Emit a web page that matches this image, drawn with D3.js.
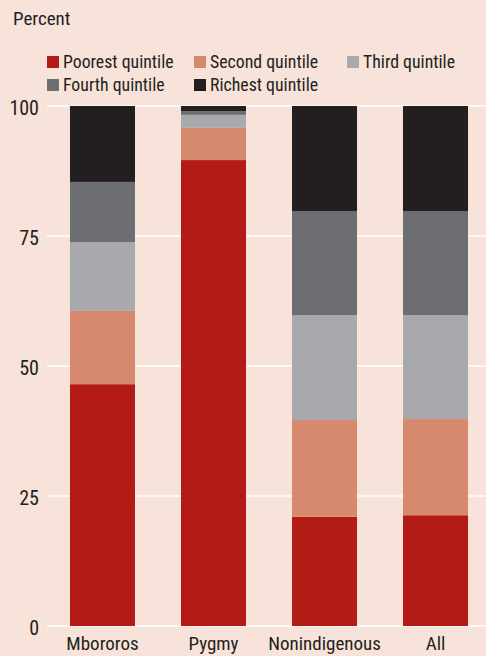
<!DOCTYPE html>
<html><head><meta charset="utf-8">
<script src="https://cdn.jsdelivr.net/npm/d3@7"></script>
<style>
html,body{margin:0;padding:0;background:#f7e3d9;}
svg{display:block;}
text{font-family:"Liberation Sans Narrow","Roboto Condensed","Liberation Sans",Arial,sans-serif;fill:#231f20;}
</style></head>
<body><svg id="c" width="486" height="656"></svg>
<script>
const categories = ["Mbororos","Pygmy","Nonindigenous","All"];
const seriesNames = ["Poorest quintile","Second quintile","Third quintile","Fourth quintile","Richest quintile"];
const poorest = [46.5, 89.6, 21.0, 21.3];
const second  = [14.1, 6.2, 18.6, 18.5];
const third   = [13.2, 2.5, 20.2, 20.0];
const fourth  = [11.6, 0.7, 20.0, 20.0];
const richest = [14.6, 1.0, 20.2, 20.2];
const yTicks = [0, 25, 50, 75, 100];
const colors = ["#b31b17","#d6896d","#a8a9ad","#6d6e71","#231f20"];

const seriesVals = [poorest, second, third, fourth, richest];
const rows = categories.map((c,i)=>{const r={cat:c}; seriesNames.forEach((s,j)=>r[s]=seriesVals[j][i]); return r;});
const stack = d3.stack().keys(seriesNames)(rows);

const svg = d3.select("#c");
const x = d3.scaleBand().domain(categories).range([47,491]).paddingInner(0.4144).paddingOuter(0.207);
const y = d3.scaleLinear().domain([0,100]).range([626,106]);

// title
svg.append("text").attr("x",13).attr("y",25).attr("font-size",19).text("Percent");

// legend
const legPos = [[47,56],[194,56],[347,56],[47,79],[194,79]];
seriesNames.forEach((s,i)=>{
  const g = svg.append("g").attr("transform",`translate(${legPos[i][0]},${legPos[i][1]})`);
  g.append("rect").attr("width",12).attr("height",12).attr("fill",colors[i]);
  g.append("text").attr("x",16).attr("y",11.5).attr("font-size",17.8).text(s);
});

// y axis labels
const yAxis = d3.axisLeft(y).tickValues(yTicks).tickSize(0).tickPadding(8);
const ga = svg.append("g").attr("transform","translate(47,0)").call(yAxis);
ga.select(".domain").remove();
ga.attr("font-family",null);
ga.selectAll("text").attr("font-size",20).attr("x",-8).attr("dy","0.42em").attr("fill","#231f20");

// grid
svg.append("g").selectAll("line").data(yTicks).join("line")
  .attr("x1",47).attr("x2",486).attr("y1",d=>y(d)).attr("y2",d=>y(d))
  .attr("stroke","#ffffff").attr("stroke-width",1.5);

// bars
svg.append("g").selectAll("g").data(stack).join("g").attr("fill",(d,i)=>colors[i])
  .selectAll("rect").data(d=>d).join("rect")
  .attr("x",d=>x(d.data.cat)).attr("width",x.bandwidth())
  .attr("y",d=>y(d[1])).attr("height",d=>y(d[0])-y(d[1]));

// x axis
const xa = svg.append("g").attr("transform","translate(0,626)").call(d3.axisBottom(x).tickSize(0).tickPadding(0));
xa.select(".domain").remove();
xa.attr("font-family",null);
xa.selectAll("text").attr("font-size",19).attr("y",24).attr("dy",0).attr("fill","#231f20");
</script></body></html>
